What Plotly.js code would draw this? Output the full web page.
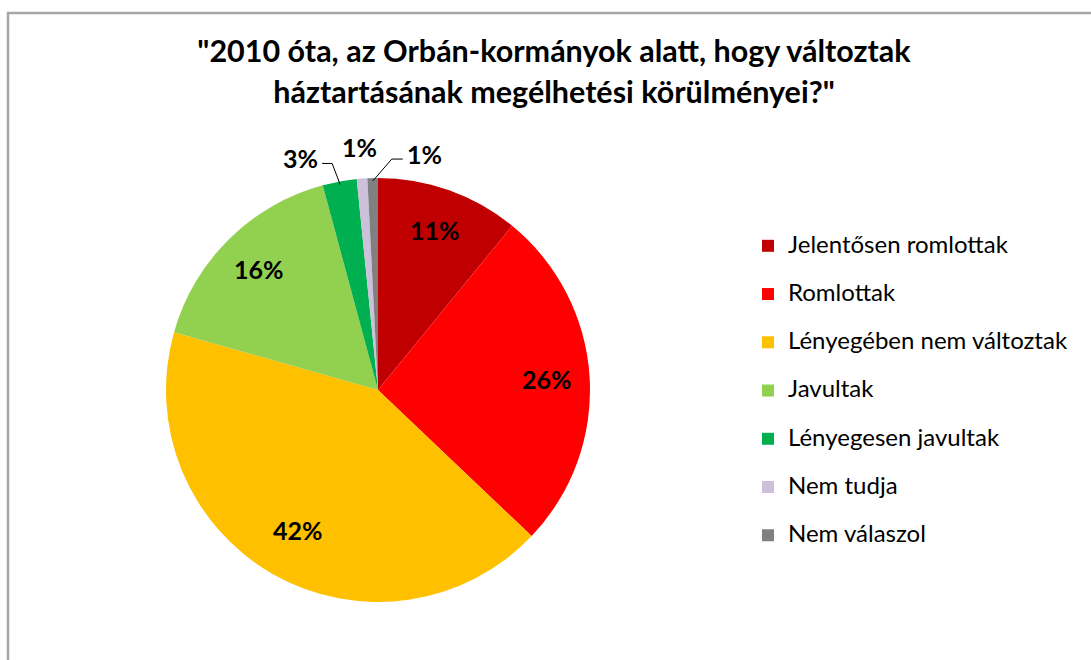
<!DOCTYPE html>
<html><head><meta charset="utf-8">
<script src="https://cdn.plot.ly/plotly-3.0.1.min.js"></script>
<style>html,body{margin:0;padding:0;background:#fff;}#chart{width:1091px;height:660px;}</style>
</head><body><div id="chart"></div>
<script>
// ---- data ----
const categories = ['Jelentősen romlottak', 'Romlottak', 'Lényegében nem változtak', 'Javultak', 'Lényegesen javultak', 'Nem tudja', 'Nem válaszol'];
const values = [10.9, 26.2, 42.3, 16.4, 2.6, 0.8, 0.8];
const colors = ['#C00000', '#FF0000', '#FFC000', '#92D050', '#00B050', '#CCC0DA', '#808080'];
const titleLines = ['"2010 óta, az Orbán-kormányok alatt, hogy változtak', 'háztartásának megélhetési körülményei?"'];

// ---- geometry / style ----
const W = 1091, H = 660;
const cx = 378, cy = 390, R = 212;
const total = values.reduce((a, b) => a + b, 0);
const pctText = values.map(v => Math.round(v / total * 100) + '%');
const labelStyle = [
  {mode: 'in', r: 0.8}, {mode: 'in', r: 0.8}, {mode: 'in', r: 0.76}, {mode: 'in', r: 0.8},
  {mode: 'out', elbow: [-8, -21], run: -10, anchor: 'right', line: true},
  {mode: 'out', elbow: [-3, -30], run: 0, anchor: 'center', line: false},
  {mode: 'out', elbow: [19, -22], run: 11, anchor: 'left', line: true}
];
const px = x => x / W, py = y => 1 - y / H;
const labelFont = {family: 'Lato', size: 25, color: '#000', weight: 'bold'};

const annotations = [];
const shapes = [{
  type: 'rect', xref: 'paper', yref: 'paper',
  x0: px(8), x1: 1.2, y0: -0.2, y1: py(13),
  line: {color: '#A6A6A6', width: 2.5}, fillcolor: 'rgba(0,0,0,0)', layer: 'below'
}];
let cum = 0;
values.forEach((v, i) => {
  const mid = (cum + v / 2) / total * 2 * Math.PI;
  cum += v;
  const s = labelStyle[i];
  if (s.mode === 'in') {
    const rr = s.r * R;
    annotations.push({
      xref: 'paper', yref: 'paper', showarrow: false,
      x: px(cx + rr * Math.sin(mid)), y: py(cy - rr * Math.cos(mid)),
      xanchor: 'center', yanchor: 'middle', text: pctText[i], font: labelFont
    });
  } else {
    const ex = cx + (R - 3) * Math.sin(mid), ey = cy - (R - 3) * Math.cos(mid);
    const bx = ex + s.elbow[0], by = ey + s.elbow[1];
    const tx = bx + s.run;
    if (s.line) {
      shapes.push({
        type: 'path', xref: 'paper', yref: 'paper',
        path: `M ${px(ex)},${py(ey)} L ${px(bx)},${py(by)} L ${px(tx)},${py(by)}`,
        line: {color: '#000', width: 1}
      });
    }
    const off = s.anchor === 'right' ? -2 : (s.anchor === 'left' ? 2 : 0);
    annotations.push({
      xref: 'paper', yref: 'paper', showarrow: false,
      x: px(tx + off), y: py(by - 5),
      xanchor: s.anchor, yanchor: 'middle', text: pctText[i], font: labelFont
    });
  }
});

const legendLabels = categories.map(c => `<span style="font-size:24px">${c}</span><br> `);

const trace = {
  type: 'pie',
  labels: legendLabels,
  values: values,
  marker: {colors: colors, line: {width: 0}},
  sort: false,
  direction: 'clockwise',
  rotation: 0,
  textinfo: 'none',
  hoverinfo: 'label+percent',
  domain: {x: [px(cx - R), px(cx + R)], y: [py(cy + R), py(cy - R)]}
};

const layout = {
  width: W, height: H,
  margin: {l: 0, r: 0, t: 0, b: 0},
  paper_bgcolor: '#fff',
  title: {
    text: titleLines.map(t => `<span style="font-size:30.5px">${t}</span>`).join('<br>'),
    font: {family: 'Lato', size: 31.5, color: '#000', weight: 'bold'},
    x: 554 / W, xanchor: 'center', xref: 'paper',
    y: 1 - 62 / H, yanchor: 'top', yref: 'container'
  },
  showlegend: true,
  legend: {
    x: px(748), xanchor: 'left', y: py(228), yanchor: 'top',
    font: {family: 'Lato', size: 17.4, color: '#000'},
    valign: 'top', bgcolor: 'rgba(0,0,0,0)'
  },
  annotations: annotations,
  shapes: shapes
};

Plotly.newPlot('chart', [trace], layout, {displayModeBar: false, staticPlot: true});
</script>
</body></html>
